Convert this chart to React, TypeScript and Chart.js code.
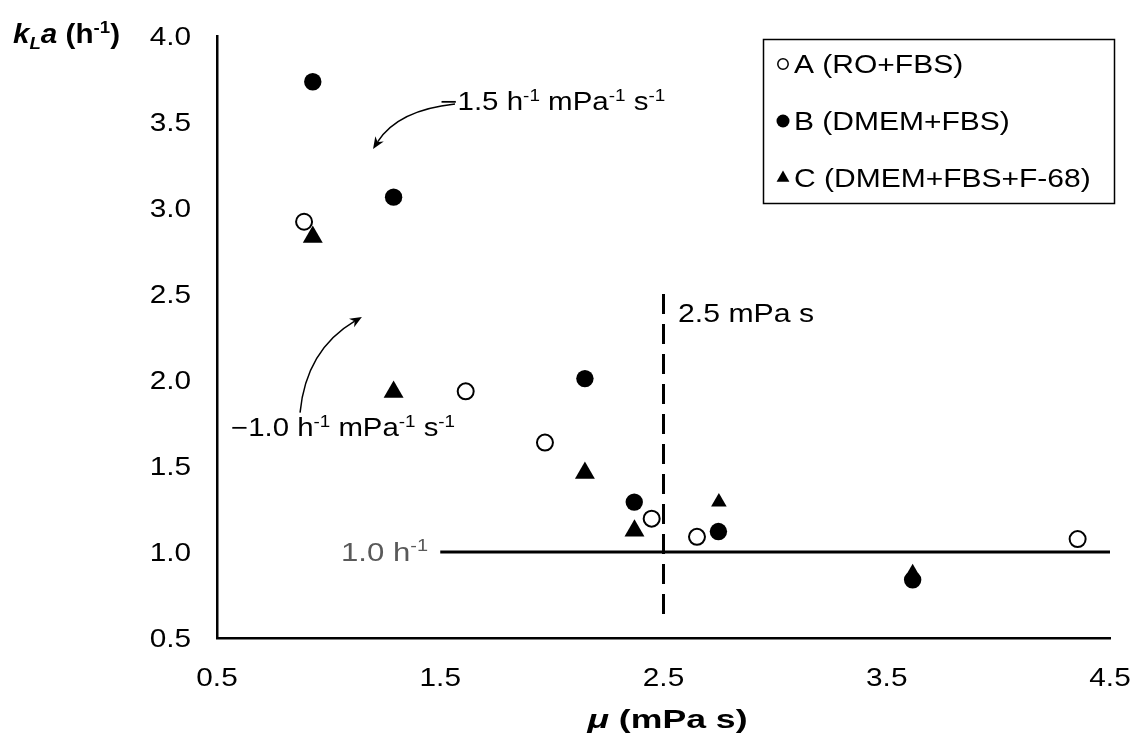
import { useEffect, useRef } from "react";
import { Chart, registerables } from "chart.js";

Chart.register(...registerables);

// Viscosity (mPa s) and kLa (h^-1) for each medium
const muA = [0.89, 1.614, 1.969, 2.447, 2.65, 4.355];
const kLaA = [2.92, 1.934, 1.636, 1.194, 1.088, 1.075];
const muB = [0.929, 1.291, 2.148, 2.369, 2.746, 3.616];
const kLaB = [3.734, 3.063, 2.008, 1.29, 1.119, 0.838];
const muC = [0.929, 1.291, 2.148, 2.37, 2.748, 3.616];
const kLaC = [2.832, 1.93, 1.46, 1.124, 1.29, 0.879];

const seriesLabels = ["A (RO+FBS)", "B (DMEM+FBS)", "C (DMEM+FBS+F-68)"];
const xTickLabels = ["0.5", "1.5", "2.5", "3.5", "4.5"];
const yTickLabels = ["0.5", "1.0", "1.5", "2.0", "2.5", "3.0", "3.5", "4.0"];

// Reference lines: 1.0 h^-1 threshold and the 2.5 mPa s viscosity limit
const thresholdX = [1.5, 4.5];
const thresholdY = 1.0;
const limitX = 2.5;
const limitY = [2.5, 0.6];

// Slope annotations (data coordinates)
const slopeHigh = { text: "1.5", x: 1.5, y: 3.569 };
const slopeLow = { text: "1.0", x: 0.563, y: 1.672 };
const arrowHigh = [
  [1.566, 3.604],
  [1.311, 3.569],
  [1.199, 3.343],
];
const arrowLow = [
  [0.872, 1.81],
  [0.899, 2.175],
  [1.149, 2.367],
];
const limitLabel = { x: 2.565, y: 2.338 };
const thresholdLabel = { x: 1.445, y: 1.0 };

const triangleRadii = [11.5, 11.5, 11.5, 11.5, 9, 9];

const FONT = '"Liberation Sans", Arial, sans-serif';
const SX = 1.19;

type Seg = { t: string; pos?: "sup" | "sub"; italic?: boolean };
type TextOpts = {
  size: number;
  bold?: boolean;
  color?: string;
  align?: "left" | "right" | "center";
  sx?: number;
  width?: number;
};

function segFont(seg: Seg, o: TextOpts) {
  const s = seg.pos ? Math.round(o.size * 0.62) : o.size;
  return `${seg.italic ? "italic " : ""}${o.bold ? "bold " : ""}${s}px ${FONT}`;
}

function drawRich(ctx: CanvasRenderingContext2D, segs: Seg[], x: number, y: number, o: TextOpts) {
  ctx.save();
  const widths = segs.map((seg) => {
    ctx.font = segFont(seg, o);
    return ctx.measureText(seg.t).width;
  });
  const natural = widths.reduce((a, b) => a + b, 0);
  const sx = o.width ? o.width / natural : o.sx ?? SX;
  const align = o.align ?? "left";
  let cx = align === "left" ? 0 : align === "right" ? -natural : -natural / 2;
  ctx.translate(x, y);
  ctx.scale(sx, 1);
  ctx.fillStyle = o.color ?? "#000";
  ctx.textBaseline = "alphabetic";
  ctx.textAlign = "left";
  segs.forEach((seg, i) => {
    ctx.font = segFont(seg, o);
    const dy = seg.pos === "sup" ? -o.size * 0.38 : seg.pos === "sub" ? o.size * 0.22 : 0;
    ctx.fillText(seg.t, cx, dy);
    cx += widths[i];
  });
  ctx.restore();
}

function slopeSegs(v: string): Seg[] {
  return [
    { t: "\u2212" + v + " h" },
    { t: "-1", pos: "sup" },
    { t: " mPa" },
    { t: "-1", pos: "sup" },
    { t: " s" },
    { t: "-1", pos: "sup" },
  ];
}

function drawArrow(ctx: CanvasRenderingContext2D, pts: number[][]) {
  const [p0, c, p2] = pts;
  ctx.save();
  ctx.strokeStyle = "#000";
  ctx.fillStyle = "#000";
  ctx.lineWidth = 1.5;
  const ang = Math.atan2(p2[1] - c[1], p2[0] - c[0]);
  const len = 12;
  const half = 5;
  const bx = p2[0] - Math.cos(ang) * len * 0.7;
  const by = p2[1] - Math.sin(ang) * len * 0.7;
  ctx.beginPath();
  ctx.moveTo(p0[0], p0[1]);
  ctx.quadraticCurveTo(c[0], c[1], bx, by);
  ctx.stroke();
  const baseX = p2[0] - Math.cos(ang) * len;
  const baseY = p2[1] - Math.sin(ang) * len;
  ctx.beginPath();
  ctx.moveTo(p2[0], p2[1]);
  ctx.lineTo(baseX + Math.sin(ang) * half, baseY - Math.cos(ang) * half);
  ctx.lineTo(bx, by);
  ctx.lineTo(baseX - Math.sin(ang) * half, baseY + Math.cos(ang) * half);
  ctx.closePath();
  ctx.fill();
  ctx.restore();
}

const overlay = {
  id: "overlay",
  afterDraw(chart: Chart) {
    const ctx = chart.ctx;
    const xs = chart.scales.x;
    const ys = chart.scales.y;
    const area = chart.chartArea;
    const size = 25;
    const capHalf = size * 0.716 * 0.5;

    // Tick labels
    yTickLabels.forEach((l) => {
      const py = ys.getPixelForValue(parseFloat(l));
      drawRich(ctx, [{ t: l }], area.left - 26, py + capHalf, { size, align: "right" });
    });
    xTickLabels.forEach((l) => {
      const px = xs.getPixelForValue(parseFloat(l));
      drawRich(ctx, [{ t: l }], px, area.bottom + 48, { size, align: "center" });
    });

    // Axis titles
    drawRich(
      ctx,
      [
        { t: "k", italic: true },
        { t: "L", italic: true, pos: "sub" },
        { t: "a", italic: true },
        { t: " (h" },
        { t: "-1", pos: "sup" },
        { t: ")" },
      ],
      13,
      43,
      { size: 27, bold: true, width: 107 }
    );
    drawRich(
      ctx,
      [{ t: "\u03bc", italic: true }, { t: " (mPa s)" }],
      (area.left + area.right) / 2 + 4,
      728,
      { size: 25, bold: true, align: "center", width: 160 }
    );

    const X = (v: number) => xs.getPixelForValue(v);
    const Y = (v: number) => ys.getPixelForValue(v);

    // Slope annotations
    drawRich(ctx, slopeSegs(slopeHigh.text), X(slopeHigh.x), Y(slopeHigh.y), { size, width: 225 });
    drawRich(ctx, slopeSegs(slopeLow.text), X(slopeLow.x), Y(slopeLow.y), { size, width: 224 });
    drawArrow(ctx, arrowHigh.map(([a, b]) => [X(a), Y(b)]));
    drawArrow(ctx, arrowLow.map(([a, b]) => [X(a), Y(b)]));

    // Reference line labels
    drawRich(ctx, [{ t: "2.5 mPa s" }], X(limitLabel.x), Y(limitLabel.y), { size, width: 136 });
    drawRich(
      ctx,
      [{ t: "1.0 h" }, { t: "-1", pos: "sup" }],
      X(thresholdLabel.x),
      Y(thresholdLabel.y) + capHalf,
      { size, align: "right", color: "#595959", width: 87 }
    );

    // Legend
    ctx.save();
    ctx.strokeStyle = "#000";
    ctx.lineWidth = 1.5;
    ctx.strokeRect(763.5, 39.5, 351, 164);
    const rows = [64, 121, 178];
    const mx = 783;
    // open circle
    ctx.beginPath();
    ctx.arc(mx, rows[0], 5.2, 0, Math.PI * 2);
    ctx.fillStyle = "#fff";
    ctx.fill();
    ctx.lineWidth = 1.5;
    ctx.stroke();
    // filled circle
    ctx.beginPath();
    ctx.arc(mx, rows[1], 6.5, 0, Math.PI * 2);
    ctx.fillStyle = "#000";
    ctx.fill();
    // triangle
    const r = 7.4;
    ctx.beginPath();
    ctx.moveTo(mx, rows[2] - r);
    ctx.lineTo(mx + r * 0.866, rows[2] + r / 2);
    ctx.lineTo(mx - r * 0.866, rows[2] + r / 2);
    ctx.closePath();
    ctx.fill();
    ctx.restore();
    seriesLabels.forEach((l, i) => {
      drawRich(ctx, [{ t: l }], 794, rows[i] + capHalf, { size, sx: 1.2 });
    });
  },
};

export default function App() {
  const ref = useRef<HTMLCanvasElement>(null);

  useEffect(() => {
    const chart = new Chart(ref.current!, {
      type: "scatter",
      data: {
        datasets: [
          {
            label: seriesLabels[0],
            data: muA.map((x, i) => ({ x, y: kLaA[i] })),
            pointStyle: "circle",
            pointRadius: 8,
            pointBackgroundColor: "#fff",
            pointBorderColor: "#000",
            pointBorderWidth: 2,
            order: 2,
          },
          {
            label: seriesLabels[1],
            data: muB.map((x, i) => ({ x, y: kLaB[i] })),
            pointStyle: "circle",
            pointRadius: 8.7,
            pointBackgroundColor: "#000",
            pointBorderColor: "#000",
            pointBorderWidth: 0,
            order: 0,
          },
          {
            label: seriesLabels[2],
            data: muC.map((x, i) => ({ x, y: kLaC[i] })),
            pointStyle: "triangle",
            pointRadius: triangleRadii,
            pointBackgroundColor: "#000",
            pointBorderColor: "#000",
            pointBorderWidth: 0,
            order: 1,
          },
          {
            label: "threshold",
            data: thresholdX.map((x) => ({ x, y: thresholdY })),
            showLine: true,
            pointRadius: 0,
            borderColor: "#000",
            borderWidth: 3,
            order: 5,
          },
          {
            label: "limit",
            data: limitY.map((y) => ({ x: limitX, y })),
            showLine: true,
            pointRadius: 0,
            borderColor: "#000",
            borderWidth: 3,
            borderDash: [20, 10],
            order: 6,
          },
        ],
      },
      options: {
        responsive: false,
        animation: false,
        devicePixelRatio: 1,
        events: [],
        layout: { padding: { top: 36, right: 22, left: 0, bottom: 0 } },
        plugins: { legend: { display: false }, tooltip: { enabled: false } },
        scales: {
          x: {
            type: "linear",
            min: 0.5,
            max: 4.5,
            ticks: { stepSize: 1, display: false },
            grid: { display: false },
            border: { display: true, color: "#000", width: 2.5 },
            afterFit: (s: any) => {
              s.height = 96;
            },
          },
          y: {
            type: "linear",
            min: 0.5,
            max: 4,
            ticks: { stepSize: 0.5, display: false },
            grid: { display: false },
            border: { display: true, color: "#000", width: 2.5 },
            afterFit: (s: any) => {
              s.width = 217;
            },
          },
        },
      },
      plugins: [overlay],
    });
    return () => chart.destroy();
  }, []);

  return (
    <div style={{ position: "fixed", left: 0, top: 0, width: 1132, height: 734, background: "#fff" }}>
      <canvas ref={ref} width={1132} height={734} style={{ display: "block" }} />
    </div>
  );
}
